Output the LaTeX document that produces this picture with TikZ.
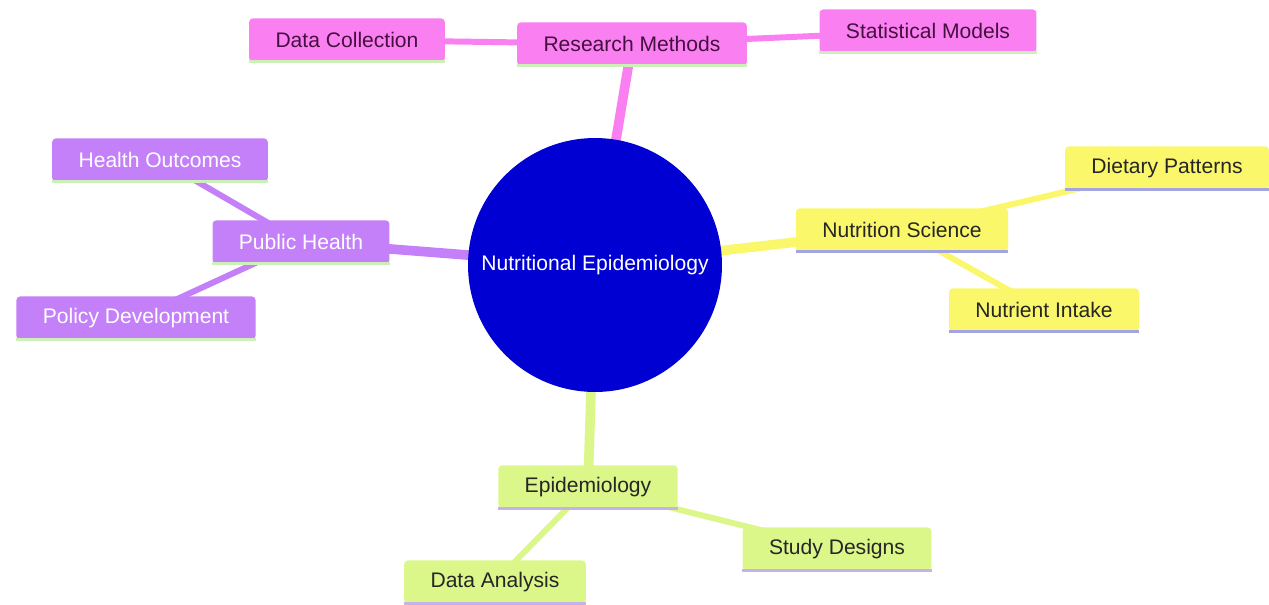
\documentclass[tikz,border=0pt]{standalone}
\usepackage{fontspec}
\setmainfont{Liberation Sans}
\usetikzlibrary{backgrounds}
\definecolor{rootblue}{HTML}{0000D2}
\definecolor{mmpink}{HTML}{FA80F2}
\definecolor{mmpurple}{HTML}{C480F8}
\definecolor{mmyellow}{HTML}{FAF86A}
\definecolor{mmgreen}{HTML}{DBF78A}
\definecolor{pinktext}{HTML}{45103F}
\definecolor{lineshadow}{HTML}{CDEFB8}
\definecolor{yellowline}{HTML}{A4A4E0}
\definecolor{greenline}{HTML}{C6B2EA}
\begin{document}
\begin{tikzpicture}[x=0.02cm, y=-0.02cm, % one unit = one pixel of the screenshot
	box/.style={rectangle, rounded corners=2pt, minimum height=24.5pt, inner xsep=15pt,
		font=\fontsize{12}{14}\selectfont},
	underline/.style={append after command={(\tikzlastnode.south west) edge[draw=#1, line width=1.6pt] (\tikzlastnode.south east)}},
	pinkbox/.style={box, fill=mmpink, text=pinktext, underline=lineshadow},
	purplebox/.style={box, fill=mmpurple, text=white, underline=lineshadow},
	yellowbox/.style={box, fill=mmyellow, text=black!85, underline=yellowline},
	greenbox/.style={box, fill=mmgreen, text=black!85, underline=greenline},
	trunk/.style={line width=5.5pt},
	twig/.style={line width=3.4pt}]
	\useasboundingbox (0,0) rectangle (1269,605);
	\node[circle, fill=rootblue, text=white, minimum size=5.08cm, font=\fontsize{12}{14}\selectfont] (root) at (595,265) {Nutritional Epidemiology};
	% research methods
	\node[pinkbox] (rm) at (632,44) {Research Methods};
	\node[pinkbox] (dc) at (347,40) {Data Collection};
	\node[pinkbox] (sm) at (928,31) {Statistical Models};
	% public health
	\node[purplebox] (ph) at (301,242) {Public Health};
	\node[purplebox] (ho) at (160,160) {Health Outcomes};
	\node[purplebox] (pd) at (136,318) {Policy Development};
	% nutrition science
	\node[yellowbox] (ns) at (902,230) {Nutrition Science};
	\node[yellowbox] (dp) at (1167,168) {Dietary Patterns};
	\node[yellowbox] (ni) at (1044,310) {Nutrient Intake};
	% epidemiology
	\node[greenbox] (ep) at (588,487) {Epidemiology};
	\node[greenbox] (sd) at (837,549) {Study Designs};
	\node[greenbox] (da) at (495,582) {Data Analysis};
	\begin{pgfonlayer}{background}
	\draw[trunk, mmpink] (root.center) -- (rm.center);
	\draw[twig, mmpink] (rm.center) -- (dc.center);
	\draw[twig, mmpink] (rm.center) -- (sm.center);
	\draw[trunk, mmpurple] (root.center) -- (ph.center);
	\draw[twig, mmpurple] (ph.center) -- (ho.center);
	\draw[twig, mmpurple] (ph.center) -- (pd.center);
	\draw[trunk, mmyellow] (root.center) -- (ns.center);
	\draw[twig, mmyellow] (ns.center) -- (dp.center);
	\draw[twig, mmyellow] (ns.center) -- (ni.center);
	\draw[trunk, mmgreen] (root.center) -- (ep.center);
	\draw[twig, mmgreen] (ep.center) -- (sd.center);
	\draw[twig, mmgreen] (ep.center) -- (da.center);
	\end{pgfonlayer}
\end{tikzpicture}
\end{document}
